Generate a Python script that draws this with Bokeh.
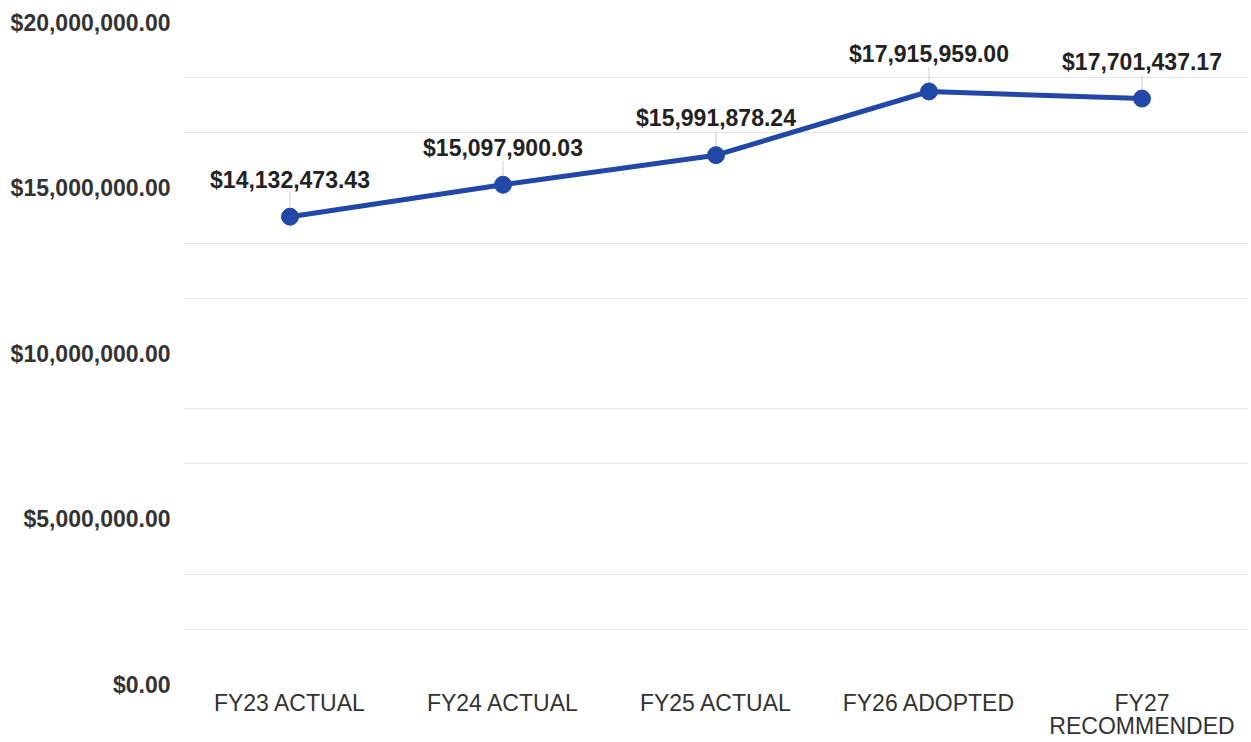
from bokeh.plotting import figure
from bokeh.models import (FixedTicker, NumeralTickFormatter, Range1d, FactorRange,
                          ColumnDataSource, LabelSet)
from bokeh.core.properties import value
from bokeh.embed import file_html
from bokeh.resources import INLINE

categories = ["FY23 ACTUAL", "FY24 ACTUAL", "FY25 ACTUAL", "FY26 ADOPTED", "FY27\nRECOMMENDED"]
values = [14132473.43, 15097900.03, 15991878.24, 17915959.00, 17701437.17]
value_labels = ["$14,132,473.43", "$15,097,900.03", "$15,991,878.24", "$17,915,959.00", "$17,701,437.17"]
y_ticks = [0, 5000000, 10000000, 15000000, 20000000]
grid_ticks = [20000000 / 12 * k for k in range(1, 12) if k % 3 != 0]

Y_MAX = 20000000
FRAME_H = 664
px = Y_MAX / FRAME_H
leader_top = [v + 24 * px for v in values]

src = ColumnDataSource(dict(x=categories, y=values, lab=value_labels, ytop=leader_top))

p = figure(x_range=FactorRange(*categories), y_range=Range1d(0, Y_MAX),
           width=1248, height=742, output_backend="svg", toolbar_location=None,
           min_border_left=183, min_border_right=0, min_border_top=22, min_border_bottom=55)
p.outline_line_color = None
p.background_fill_color = "white"
p.border_fill_color = "white"

p.xgrid.grid_line_color = None
p.ygrid.ticker = FixedTicker(ticks=grid_ticks)
p.ygrid.grid_line_color = "#e6e6e6"
p.ygrid.grid_line_width = 1

p.yaxis.ticker = FixedTicker(ticks=y_ticks)
p.yaxis.formatter = NumeralTickFormatter(format="$0,0.00")
p.yaxis.axis_line_color = None
p.yaxis.major_tick_line_color = None
p.yaxis.minor_tick_line_color = None
p.yaxis.major_tick_out = 0
p.yaxis.major_tick_in = 0
p.yaxis.major_label_text_font = "Liberation Sans"
p.yaxis.major_label_text_font_style = "bold"
p.yaxis.major_label_text_font_size = "23px"
p.yaxis.major_label_text_color = "#333333"
p.yaxis.major_label_standoff = 13

p.xaxis.axis_line_color = None
p.xaxis.major_tick_line_color = None
p.xaxis.minor_tick_line_color = None
p.xaxis.major_tick_out = 0
p.xaxis.major_tick_in = 0
p.xaxis.major_label_text_font = "Liberation Sans"
p.xaxis.major_label_text_font_size = "23px"
p.xaxis.major_label_text_color = "#333333"
p.xaxis.major_label_text_line_height = 0.92
p.xaxis.major_label_standoff = 5

p.segment(x0="x", y0="y", x1="x", y1="ytop", source=src, line_color="#cccccc", line_width=1)
p.line(x="x", y="y", source=src, line_color="#2148a6", line_width=5)
p.scatter(x="x", y="y", source=src, size=17, fill_color="#2148a6", line_color="#2148a6")

labels = LabelSet(x="x", y="y", text="lab", source=src, y_offset=37,
                  text_align="center", text_baseline="middle",
                  text_font=value("Liberation Sans"), text_font_style="bold",
                  text_font_size="23px", text_color="#222222")
p.add_layout(labels)

open("out.html", "w").write(file_html(p, INLINE))
